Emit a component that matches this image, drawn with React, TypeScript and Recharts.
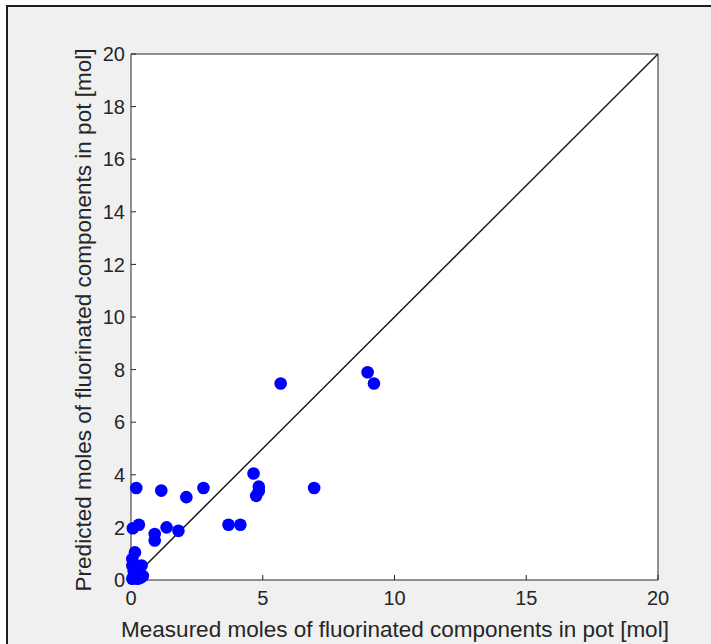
import {
  CartesianGrid,
  Line,
  ComposedChart,
  Scatter,
  XAxis,
  YAxis,
  ZAxis,
} from "recharts";

const INK = "#262626";
const FONT = "Arial, 'Liberation Sans', Helvetica, sans-serif";

const measured = [
  0.2, 1.15, 2.75, 2.1, 4.65, 4.85, 4.85, 4.75, 6.95, 3.7, 4.15, 1.35, 1.8,
  0.9, 0.9, 0.3, 0.07, 0.15, 0.05, 0.05, 0.1, 0.2, 0.3, 0.4, 0.45, 0.25,
  0.05, 0.35, 5.68, 8.98, 9.22,
];
const predicted = [
  3.5, 3.4, 3.5, 3.15, 4.05, 3.55, 3.38, 3.2, 3.5, 2.1, 2.1, 2.0, 1.87,
  1.75, 1.5, 2.1, 1.97, 1.05, 0.8, 0.55, 0.35, 0.5, 0.3, 0.55, 0.15, 0.05,
  0.05, 0.08, 7.47, 7.9, 7.47,
];
const identity = [0, 20];
const ticksX = [0, 5, 10, 15, 20];
const ticksY = [0, 2, 4, 6, 8, 10, 12, 14, 16, 18, 20];

const points = measured.map((m, i) => ({ x: m, y: predicted[i] }));
const diag = identity.map((v) => ({ x: v, y: v }));

export default function App() {
  return (
    <div
      style={{
        position: "absolute",
        left: 0,
        top: 0,
        width: 711,
        height: 644,
        background: "#fff",
        overflow: "hidden",
      }}
    >
      <div
        style={{
          position: "absolute",
          left: 6,
          top: 5,
          width: 720,
          height: 660,
          background: "#f0f0f0",
          borderLeft: "2px solid #1e1e1e",
          borderTop: "2px solid #1e1e1e",
        }}
      />
      <div style={{ position: "absolute", left: 0, top: 0 }}>
        <ComposedChart
          width={711}
          height={644}
          margin={{ top: 53, right: 52, bottom: 0, left: 0 }}
        >
          <CartesianGrid horizontal={false} vertical={false} fill="#ffffff" />
          <XAxis
            xAxisId="b"
            type="number"
            dataKey="x"
            domain={[0, 20]}
            ticks={ticksX}
            height={64}
            stroke={INK}
            tickSize={-5}
            tickMargin={16}
            tick={{ fontSize: 20, fill: INK, fontFamily: FONT }}
            label={{
              content: () => (
                <text
                  x={395}
                  y={637}
                  textAnchor="middle"
                  fontSize={22.5}
                  fill={INK}
                  fontFamily={FONT}
                >
                  Measured moles of fluorinated components in pot [mol]
                </text>
              ),
            }}
          />
          <XAxis
            xAxisId="t"
            orientation="top"
            type="number"
            dataKey="x"
            domain={[0, 20]}
            ticks={ticksX}
            height={1}
            stroke={INK}
            tickSize={-5}
            tick={false}
          />
          <YAxis
            yAxisId="l"
            type="number"
            dataKey="y"
            domain={[0, 20]}
            ticks={ticksY}
            width={131}
            stroke={INK}
            tickSize={-5}
            tickMargin={11}
            tick={{ fontSize: 20, fill: INK, fontFamily: FONT }}
            label={{
              content: () => (
                <text
                  x={91}
                  y={320}
                  textAnchor="middle"
                  fontSize={22.5}
                  fill={INK}
                  fontFamily={FONT}
                  transform="rotate(-90 91 320)"
                >
                  Predicted moles of fluorinated components in pot [mol]
                </text>
              ),
            }}
          />
          <YAxis
            yAxisId="r"
            orientation="right"
            type="number"
            dataKey="y"
            domain={[0, 20]}
            ticks={ticksY}
            width={1}
            stroke={INK}
            tickSize={-5}
            tick={false}
          />
          <ZAxis range={[125, 125]} />
          <Line
            xAxisId="b"
            yAxisId="l"
            data={diag}
            dataKey="y"
            type="linear"
            stroke="#1a1a1a"
            strokeWidth={1.5}
            dot={false}
            activeDot={false}
            isAnimationActive={false}
          />
          <Scatter
            xAxisId="b"
            yAxisId="l"
            data={points}
            fill="#0000ff"
            isAnimationActive={false}
          />
        </ComposedChart>
      </div>
    </div>
  );
}
